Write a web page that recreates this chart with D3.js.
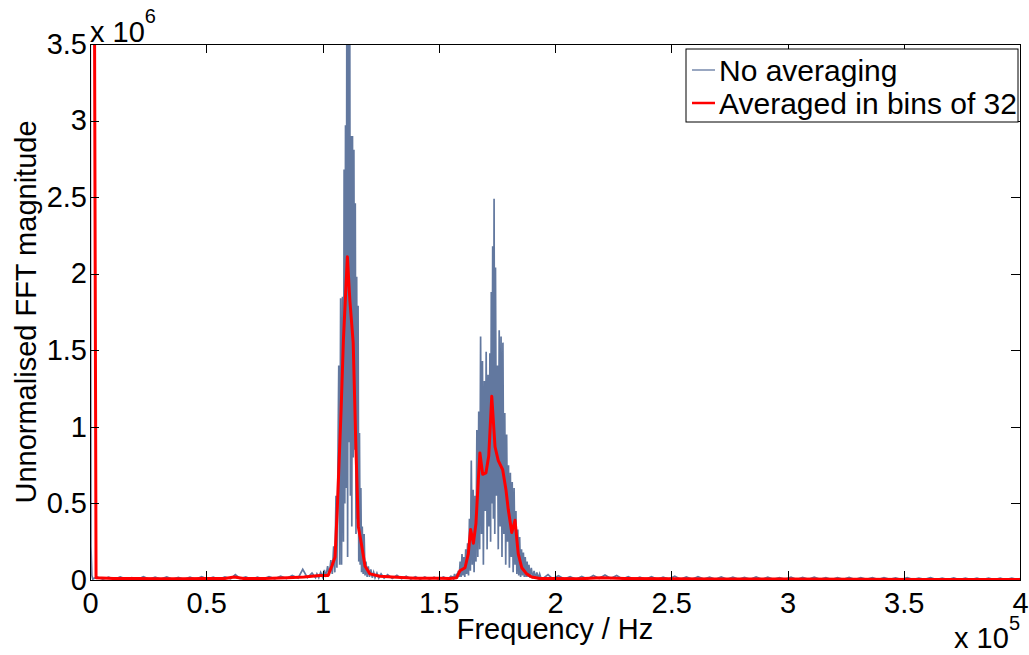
<!DOCTYPE html>
<html>
<head>
<meta charset="utf-8">
<script src="https://cdn.jsdelivr.net/npm/d3@7"></script>
<style>
  body { margin: 0; background: #fff; }
  svg { display: block; font-family: "Liberation Sans", Arial, sans-serif; }
  .axis text { font-size: 29px; fill: #000; }
  .axis path, .axis line { stroke: #000; shape-rendering: crispEdges; }
</style>
</head>
<body>
<svg width="1029" height="655"></svg>
<script>
// frequency in kHz, magnitude in units of 1e6

// raw spectrum (no averaging)
var blueDc = [[0, 5.0], [0.4, 0.22], [0.8, 0.03], [1.2, 0.006]];

var blueLowBand = [
  [3, 0.02], [5.5, 0.005], [8, 0.018], [10.5, 0.004], [13, 0.02], [15.5, 0.006],
  [18, 0.016], [20.5, 0.004], [23, 0.022], [25.5, 0.005], [28, 0.018], [30.5, 0.006],
  [33, 0.02], [35.5, 0.004], [38, 0.017], [40.5, 0.005], [43, 0.019], [45.5, 0.004],
  [48, 0.021], [50.5, 0.006], [53, 0.018], [55.5, 0.005], [58, 0.02], [60.5, 0.008],
  [62.5, 0.035], [64.5, 0.01], [67, 0.02], [69.5, 0.005], [72, 0.018], [74.5, 0.006],
  [77, 0.022], [79.5, 0.008], [82, 0.025], [84.5, 0.01], [87, 0.03], [89.5, 0.012],
  [91.5, 0.07], [93.5, 0.015], [95.5, 0.045]
];

var bluePeakOne = [
  [97.0, 0.015], [97.6, 0.04], [98.4, 0.015], [99.2, 0.05], [100.0, 0.02], [100.8, 0.065],
  [101.5, 0.02], [102.2, 0.09], [102.9, 0.03], [103.6, 0.13], [104.2, 0.04], [104.8, 0.22],
  [105.3, 0.05], [105.8, 0.55], [106.2, 0.08], [106.6, 0.7], [107.0, 1.4], [107.4, 0.1],
  [107.8, 1.84], [108.2, 0.1], [108.6, 1.85], [109.0, 0.25], [109.3, 2.68], [109.6, 0.5],
  [109.9, 2.97], [110.2, 0.6], [110.5, 4.2], [110.8, 0.15], [111.1, 3.9], [111.4, 0.9],
  [111.7, 4.0], [112.0, 0.55], [112.3, 2.9], [112.6, 0.35], [112.9, 2.9], [113.2, 0.8],
  [113.5, 2.81], [113.8, 0.85], [114.1, 2.46], [114.4, 0.3], [114.7, 1.98], [115.0, 0.4],
  [115.3, 1.79], [115.6, 0.12], [115.9, 0.96], [116.2, 0.1], [116.5, 0.6], [116.8, 0.05],
  [117.1, 0.35], [117.5, 0.04], [117.9, 0.3], [118.3, 0.03], [118.7, 0.12], [119.2, 0.02],
  [119.7, 0.09], [120.2, 0.02], [120.8, 0.07], [121.4, 0.015], [122.0, 0.05]
];

var blueBetween = [
  [122.6, 0.015], [123.4, 0.045], [124.2, 0.012], [125.2, 0.04], [126.5, 0.012], [128, 0.035],
  [130, 0.01], [132, 0.03], [134, 0.008], [136, 0.025], [138, 0.006], [140, 0.022],
  [142, 0.005], [144, 0.02], [146, 0.005], [148, 0.018], [150, 0.004], [152, 0.02],
  [154, 0.006], [155.2, 0.025]
];

var bluePeakTwo = [
  [156.0, 0.02], [156.4, 0.005], [156.8, 0.04], [157.2, 0.01], [157.6, 0.03], [158.0, 0.01],
  [158.4, 0.06], [158.8, 0.02], [159.2, 0.12], [159.6, 0.02], [160.0, 0.17], [160.4, 0.03],
  [160.8, 0.15], [161.2, 0.02], [161.6, 0.2], [162.0, 0.04], [162.4, 0.24], [162.8, 0.03],
  [163.2, 0.4], [163.6, 0.06], [164.0, 0.78], [164.4, 0.1], [164.8, 0.59], [165.2, 0.05],
  [165.6, 0.55], [166.0, 0.12], [166.4, 0.98], [166.8, 0.15], [167.2, 1.1], [167.6, 0.2],
  [168.0, 1.59], [168.4, 0.3], [168.8, 1.43], [169.2, 0.1], [169.6, 1.3], [170.0, 0.45],
  [170.4, 1.49], [170.8, 0.2], [171.2, 1.34], [171.6, 0.35], [172.0, 1.48], [172.3, 0.25],
  [172.6, 1.88], [172.9, 0.5], [173.2, 2.18], [173.5, 0.4], [173.8, 2.49], [174.1, 0.3],
  [174.4, 2.04], [174.8, 0.55], [175.2, 1.4], [175.6, 0.2], [176.0, 1.63], [176.4, 0.35],
  [176.8, 1.59], [177.2, 0.15], [177.6, 1.55], [178.0, 0.3], [178.4, 1.09], [178.8, 0.1],
  [179.2, 0.95], [179.6, 0.25], [180.0, 0.75], [180.4, 0.08], [180.8, 0.7], [181.2, 0.15],
  [181.6, 0.64], [182.0, 0.05], [182.4, 0.6], [182.8, 0.1], [183.2, 0.45], [183.6, 0.04],
  [184.0, 0.33], [184.4, 0.03], [184.8, 0.28], [185.2, 0.02], [185.6, 0.2], [186.0, 0.03],
  [186.4, 0.18], [186.8, 0.02], [187.2, 0.15], [187.6, 0.02], [188.0, 0.12], [188.4, 0.02],
  [188.8, 0.1], [189.2, 0.015], [189.8, 0.08], [190.4, 0.01], [191.0, 0.06], [191.6, 0.01],
  [192.2, 0.05], [192.8, 0.01], [193.4, 0.04], [194.0, 0.01]
];

var blueHighBand = [
  [195, 0.012], [197, 0.035], [199, 0.008], [201.5, 0.028], [204, 0.006], [206.5, 0.022],
  [209, 0.005], [211.5, 0.024], [214, 0.007], [216.5, 0.03], [219, 0.01], [221.5, 0.033],
  [224, 0.01], [226.5, 0.03], [229, 0.006], [231.5, 0.021], [234, 0.004], [236.5, 0.019],
  [239, 0.005], [241.5, 0.022], [244, 0.004], [246.5, 0.018], [249, 0.006], [251.5, 0.025],
  [254, 0.005], [256.5, 0.02], [259, 0.004], [261.5, 0.022], [264, 0.006], [266.5, 0.019],
  [269, 0.004], [271.5, 0.02], [274, 0.005], [276.5, 0.018], [279, 0.004], [281.5, 0.017],
  [284, 0.005], [286.5, 0.02], [289, 0.004], [291.5, 0.018], [294, 0.005], [296.5, 0.016],
  [299, 0.004], [301.5, 0.018], [304, 0.003], [306.5, 0.017], [309, 0.005], [311.5, 0.019],
  [314, 0.004], [316.5, 0.016], [319, 0.003], [321.5, 0.015], [324, 0.004], [326.5, 0.017],
  [329, 0.003], [331.5, 0.016], [334, 0.004], [336.5, 0.015], [339, 0.003], [341.5, 0.016],
  [344, 0.004], [346.5, 0.014], [349, 0.003], [351.5, 0.015], [354, 0.003], [356.5, 0.013],
  [359, 0.004], [361.5, 0.015], [364, 0.003], [366.5, 0.013], [369, 0.003], [371.5, 0.014],
  [374, 0.002], [376.5, 0.012], [379, 0.003], [381.5, 0.013], [384, 0.002], [386.5, 0.012],
  [389, 0.003], [391.5, 0.013], [394, 0.002], [396.5, 0.012], [399, 0.003], [400, 0.01]
];

// spectrum averaged in bins of 32
var redAveraged = [
  [1.7, 5.0], [2.6, 0.015], [10, 0.01], [20, 0.009], [30, 0.008], [40, 0.008], [50, 0.009],
  [58, 0.01], [62, 0.02], [66, 0.01], [75, 0.01], [85, 0.015], [92, 0.02], [98.9, 0.03],
  [102.4, 0.03], [104.0, 0.09], [105.4, 0.15], [106.4, 0.48], [108.0, 1.11], [109.0, 1.57],
  [110.7, 2.11], [111.8, 1.82], [113.2, 1.55], [114.4, 0.85], [115.4, 0.35], [116.9, 0.22],
  [118.3, 0.09], [120.4, 0.04], [124.7, 0.025], [130, 0.02], [140, 0.012], [150, 0.012],
  [154.8, 0.01], [157.7, 0.015], [159.1, 0.06], [161.3, 0.08], [162.7, 0.17], [163.7, 0.33],
  [164.9, 0.24], [166.0, 0.37], [167.0, 0.65], [167.7, 0.83], [168.9, 0.69], [170.3, 0.70],
  [171.5, 0.81], [172.8, 1.20], [174.2, 0.87], [175.6, 0.78], [177.5, 0.72], [178.9, 0.59],
  [179.9, 0.46], [181.4, 0.31], [182.8, 0.39], [184.2, 0.17], [185.7, 0.08], [187.8, 0.04],
  [190.0, 0.02], [193.5, 0.01], [200, 0.01], [210, 0.008], [220, 0.014], [230, 0.01],
  [250, 0.008], [270, 0.007], [300, 0.006], [330, 0.005], [360, 0.004], [400, 0.003]
];

var xTicks = [0, 50, 100, 150, 200, 250, 300, 350, 400];
var yTicks = [0, 0.5, 1, 1.5, 2, 2.5, 3, 3.5];
var legendLabels = ['No averaging', 'Averaged in bins of 32'];
var seriesColors = ['#62789f', '#ff0000'];

var blueSpectrum = [].concat(blueDc, blueLowBand, bluePeakOne, blueBetween, bluePeakTwo, blueHighBand);

var margin = { left: 90, right: 9, top: 44, bottom: 75 },
  width = 1029,
  height = 655,
  plotW = width - margin.left - margin.right,
  plotH = height - margin.top - margin.bottom;

var svg = d3.select('svg');

var x = d3.scaleLinear().domain([0, 400]).range([margin.left, margin.left + plotW]);
var y = d3.scaleLinear().domain([0, 3.5]).range([margin.top + plotH, margin.top]);

svg.append('defs').append('clipPath')
  .attr('id', 'plotClip')
  .append('rect')
  .attr('x', margin.left)
  .attr('y', margin.top)
  .attr('width', plotW)
  .attr('height', plotH);

var line = d3.line()
  .x(function(d) { return x(d[0]); })
  .y(function(d) { return y(d[1]); });

var plot = svg.append('g').attr('clip-path', 'url(#plotClip)');

plot.append('path')
  .datum(blueSpectrum)
  .attr('d', line)
  .attr('fill', 'none')
  .attr('stroke', seriesColors[0])
  .attr('stroke-width', 1.7);

plot.append('path')
  .datum(redAveraged)
  .attr('d', line)
  .attr('fill', 'none')
  .attr('stroke', seriesColors[1])
  .attr('stroke-width', 3)
  .attr('stroke-linejoin', 'round');

// axes: MATLAB style, ticks pointing inward on all four sides
var tickLen = 9;
var fmt = function(d) { return String(d); };

svg.append('g')
  .attr('class', 'axis')
  .attr('transform', 'translate(0,' + (margin.top + plotH) + ')')
  .call(d3.axisBottom(x).tickValues(xTicks).tickFormat(function(d) { return fmt(d / 100); })
    .tickSizeInner(-tickLen).tickSizeOuter(0).tickPadding(12));

svg.append('g')
  .attr('class', 'axis')
  .attr('transform', 'translate(0,' + margin.top + ')')
  .call(d3.axisTop(x).tickValues(xTicks).tickFormat('').tickSizeInner(-tickLen).tickSizeOuter(0));

svg.append('g')
  .attr('class', 'axis')
  .attr('transform', 'translate(' + margin.left + ',0)')
  .call(d3.axisLeft(y).tickValues(yTicks).tickFormat(fmt)
    .tickSizeInner(-tickLen).tickSizeOuter(0).tickPadding(3));

svg.append('g')
  .attr('class', 'axis')
  .attr('transform', 'translate(' + (margin.left + plotW) + ',0)')
  .call(d3.axisRight(y).tickValues(yTicks).tickFormat('').tickSizeInner(-tickLen).tickSizeOuter(0));

// exponent labels
var expTop = svg.append('text')
  .attr('x', margin.left)
  .attr('y', 42)
  .style('font-size', '29px');
expTop.append('tspan').text('x 10');
expTop.append('tspan').attr('dy', -19).style('font-size', '20px').text('6');

var expBottom = svg.append('text')
  .attr('x', 1020)
  .attr('y', 648)
  .attr('text-anchor', 'end')
  .style('font-size', '29px');
expBottom.append('tspan').text('x 10');
expBottom.append('tspan').attr('dy', -18).style('font-size', '20px').text('5');

// axis titles
svg.append('text')
  .attr('x', margin.left + plotW / 2)
  .attr('y', 639)
  .attr('text-anchor', 'middle')
  .style('font-size', '29px')
  .text('Frequency / Hz');

svg.append('text')
  .attr('transform', 'translate(36,' + (margin.top + plotH / 2) + ') rotate(-90)')
  .attr('text-anchor', 'middle')
  .style('font-size', '29px')
  .text('Unnormalised FFT magnitude');

// legend
var legend = svg.append('g').attr('transform', 'translate(686,49)');
legend.append('rect')
  .attr('width', 332)
  .attr('height', 73)
  .attr('fill', '#fff')
  .attr('stroke', '#000')
  .attr('stroke-width', 1);

legendLabels.forEach(function(label, i) {
  var cy = 21 + i * 33;
  legend.append('line')
    .attr('x1', 6).attr('x2', 29)
    .attr('y1', cy).attr('y2', cy)
    .attr('stroke', seriesColors[i])
    .attr('stroke-width', i === 0 ? 1.3 : 2.5);
  legend.append('text')
    .attr('x', 33)
    .attr('y', cy)
    .attr('dy', '0.35em')
    .style('font-size', '30px')
    .text(label);
});
</script>
</body>
</html>
